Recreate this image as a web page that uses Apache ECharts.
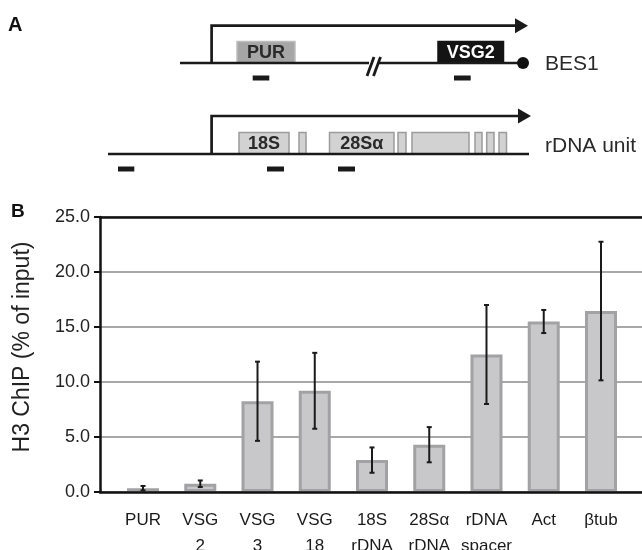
<!DOCTYPE html>
<html><head><meta charset="utf-8">
<script src="https://cdn.jsdelivr.net/npm/echarts@6/dist/echarts.min.js"></script>
<style>html,body{margin:0;padding:0;background:#fff}#chart{width:642px;height:550px}</style>
</head><body><div id="chart"></div>
<script>
// ---------- Panel B data ----------
const categories = ['PUR', 'VSG\n2', 'VSG\n3', 'VSG\n18', '18S\nrDNA', '28S\u03b1\nrDNA', 'rDNA\nspacer', 'Act', '\u03b2tub'];
const h3Values = [0.35, 0.75, 8.25, 9.2, 2.9, 4.3, 12.5, 15.5, 16.45];
const h3Errors = [0.2, 0.3, 3.6, 3.45, 1.15, 1.6, 4.5, 1.05, 6.3];
const yTicks = [0, 5, 10, 15, 20, 25];

// ---------- Panel A schematic data (schematic map units) ----------
const trackNames = ['BES1', 'rDNA unit'];
const trackY = [63, 154];
const trackStart = [180, 108];
const trackEnd = [523, 529];
const trackBreak = [374, -1];
const telomere = [true, false];
const promoterX = [211.6, 211.6];
const promoterTop = [25.7, 116];
const arrowTip = [528, 531];
const bes1Genes = ['PUR', 'VSG2'];
const bes1GeneStart = [237, 438];
const bes1GeneEnd = [295, 503.5];
const rdnaGenes = ['18S', '', '28S\u03b1', '', '', '', '', ''];
const rdnaGeneStart = [239, 299, 329.5, 398, 412, 475, 486.7, 499];
const rdnaGeneEnd = [289, 306, 394, 406, 469, 482, 494, 506.5];
const bes1ProbeStart = [252.7, 454];
const bes1ProbeEnd = [269.3, 470.7];
const rdnaProbeStart = [118, 267, 338];
const rdnaProbeEnd = [134.3, 284, 355];

const FONT = 'Liberation Sans, Arial, Helvetica, sans-serif';
const INK = '#1a1a1a';

const chart = echarts.init(document.getElementById('chart'), null, {renderer: 'canvas'});

function lineEl(a, b, w, c) {
  return {type: 'line', shape: {x1: a[0], y1: a[1], x2: b[0], y2: b[1]}, style: {stroke: c || INK, lineWidth: w}};
}

const errorData = categories.map((c, i) => [i, h3Values[i] - h3Errors[i], h3Values[i] + h3Errors[i]]);

const trackData = trackNames.map((n, i) => [trackStart[i], trackEnd[i], trackY[i], trackBreak[i], i]);
const arrowData = trackNames.map((n, i) => [promoterX[i], trackY[i], promoterTop[i], arrowTip[i]]);
const bes1GeneData = bes1Genes.map((g, i) => [bes1GeneStart[i], bes1GeneEnd[i], trackY[0]]);
const rdnaGeneData = rdnaGenes.map((g, i) => [rdnaGeneStart[i], rdnaGeneEnd[i], trackY[1]]);
const probeData = bes1ProbeStart.map((s, i) => [s, bes1ProbeEnd[i], trackY[0]])
  .concat(rdnaProbeStart.map((s, i) => [s, rdnaProbeEnd[i], trackY[1]]));

const boxH = 21.5;

const option = {
  backgroundColor: '#fff',
  animation: false,
  grid: [
    {left: 100, right: -10, top: 217, height: 275, outerBoundsMode: 'none', containLabel: false},
    {left: 114.4, right: 12.4, top: 217, height: 275, outerBoundsMode: 'none', containLabel: false},
    {left: 0, right: 0, top: 0, height: 200, outerBoundsMode: 'none', containLabel: false}
  ],
  xAxis: [
    {gridIndex: 0, type: 'value', min: 0, max: 1, position: 'bottom', z: 10,
      axisLine: {show: true, onZero: false, lineStyle: {color: '#111', width: 2.5}},
      axisTick: {show: false}, axisLabel: {show: false}, splitLine: {show: false}},
    {gridIndex: 0, type: 'value', min: 0, max: 1, position: 'top', z: 10,
      axisLine: {show: true, onZero: false, lineStyle: {color: '#111', width: 2.5}},
      axisTick: {show: false}, axisLabel: {show: false}, splitLine: {show: false}},
    {gridIndex: 1, type: 'category', data: categories,
      axisLine: {show: false}, axisTick: {show: false}, splitLine: {show: false},
      axisLabel: {interval: 0, margin: 15, fontSize: 17, lineHeight: 26, color: '#1a1a1a', fontFamily: FONT}},
    {gridIndex: 2, type: 'value', min: 0, max: 642, show: false}
  ],
  yAxis: [
    {gridIndex: 0, type: 'value', min: yTicks[0], max: yTicks[yTicks.length - 1], interval: yTicks[1] - yTicks[0],
      axisLine: {show: true, lineStyle: {color: '#111', width: 2.5}},
      axisTick: {show: true, length: 6, lineStyle: {color: '#111', width: 2}},
      axisLabel: {formatter: v => v.toFixed(1), fontSize: 18, color: '#222', margin: 10, fontFamily: FONT},
      splitLine: {show: true, lineStyle: {color: '#a8a8a8', width: 2}}},
    {gridIndex: 1, type: 'value', min: yTicks[0], max: yTicks[yTicks.length - 1], show: false},
    {gridIndex: 2, type: 'value', min: 0, max: 200, inverse: true, show: false}
  ],
  graphic: [
    {type: 'text', x: 8, y: 25, style: {text: 'A', font: 'bold 20px ' + FONT, fill: '#111', verticalAlign: 'middle'}},
    {type: 'text', x: 11, y: 212, style: {text: 'B', font: 'bold 19px ' + FONT, fill: '#111', verticalAlign: 'middle'}},
    {type: 'text', x: 23, y: 347, rotation: Math.PI / 2,
      style: {text: 'H3 ChIP (% of input)', font: '23px ' + FONT, fill: '#222', align: 'center', verticalAlign: 'middle'}}
  ],
  series: [
    {type: 'bar', xAxisIndex: 2, yAxisIndex: 1, data: h3Values, barWidth: 32,
      itemStyle: {color: '#c8c8ca', borderColor: '#a2a2a4', borderWidth: 3}},
    {type: 'custom', xAxisIndex: 2, yAxisIndex: 1, data: errorData, z: 5,
      renderItem: function (params, api) {
        const x = api.value(0);
        const lo = api.coord([x, api.value(1)]);
        const hi = api.coord([x, api.value(2)]);
        const cap = 2.5;
        return {type: 'group', children: [
          lineEl(lo, hi, 2),
          lineEl([lo[0] - cap, lo[1]], [lo[0] + cap, lo[1]], 2),
          lineEl([hi[0] - cap, hi[1]], [hi[0] + cap, hi[1]], 2)
        ]};
      }},
    // ----- schematic: gene boxes -----
    {type: 'custom', xAxisIndex: 3, yAxisIndex: 2, data: bes1GeneData, clip: false,
      renderItem: function (params, api) {
        const a = api.coord([api.value(0), api.value(2) - boxH]);
        const b = api.coord([api.value(1), api.value(2)]);
        const dark = params.dataIndex === 1;
        return {type: 'group', children: [
          {type: 'rect', shape: {x: a[0], y: a[1], width: b[0] - a[0], height: b[1] - a[1]},
            style: {fill: dark ? '#141414' : '#a6a6a6', stroke: dark ? '#141414' : '#bdbdbd', lineWidth: 1.5}},
          {type: 'text', x: (a[0] + b[0]) / 2, y: (a[1] + b[1]) / 2 + 0.5,
            style: {text: bes1Genes[params.dataIndex], font: 'bold 18px ' + FONT, fill: dark ? '#fff' : '#2a2a2a', align: 'center', verticalAlign: 'middle'}}
        ]};
      }},
    {type: 'custom', xAxisIndex: 3, yAxisIndex: 2, data: rdnaGeneData, clip: false,
      renderItem: function (params, api) {
        const a = api.coord([api.value(0), api.value(2) - boxH]);
        const b = api.coord([api.value(1), api.value(2)]);
        const children = [
          {type: 'rect', shape: {x: a[0], y: a[1], width: b[0] - a[0], height: b[1] - a[1]},
            style: {fill: '#d2d2d2', stroke: '#9c9c9c', lineWidth: 1.5}}
        ];
        const t = rdnaGenes[params.dataIndex];
        if (t) children.push({type: 'text', x: (a[0] + b[0]) / 2, y: (a[1] + b[1]) / 2 + 0.5,
          style: {text: t, font: 'bold 18px ' + FONT, fill: '#2a2a2a', align: 'center', verticalAlign: 'middle'}});
        return {type: 'group', children};
      }},
    // ----- schematic: probes -----
    {type: 'custom', xAxisIndex: 3, yAxisIndex: 2, data: probeData, clip: false,
      renderItem: function (params, api) {
        const a = api.coord([api.value(0), api.value(2) + 12.5]);
        const b = api.coord([api.value(1), api.value(2) + 17.5]);
        return {type: 'rect', shape: {x: a[0], y: a[1], width: b[0] - a[0], height: b[1] - a[1]}, style: {fill: INK}};
      }},
    // ----- schematic: track lines -----
    {type: 'custom', xAxisIndex: 3, yAxisIndex: 2, data: trackData, clip: false,
      renderItem: function (params, api) {
        const s = api.value(0), e = api.value(1), y = api.value(2), br = api.value(3), idx = params.dataIndex;
        const p = (v, yy) => api.coord([v, yy === undefined ? y : yy]);
        const children = [];
        if (br >= 0) {
          children.push(lineEl(p(s), p(br - 5), 2.5), lineEl(p(br + 5), p(e), 2.5));
          children.push(lineEl(p(br - 7, y + 13), p(br, y - 6), 2.8));
          children.push(lineEl(p(br - 0.5, y + 13), p(br + 6.5, y - 6), 2.8));
        } else {
          children.push(lineEl(p(s), p(e), 2.5));
        }
        if (telomere[idx]) {
          const c = p(e);
          children.push({type: 'circle', shape: {cx: c[0], cy: c[1], r: 6}, style: {fill: '#111'}});
        }
        const lp = p(545, y + (idx === 0 ? 1 : -8));
        children.push({type: 'text', x: lp[0], y: lp[1],
          style: {text: trackNames[idx], font: '21px ' + FONT, fill: '#2a2a2a', align: 'left', verticalAlign: 'middle'}});
        return {type: 'group', children};
      }},
    // ----- schematic: promoter arrows -----
    {type: 'custom', xAxisIndex: 3, yAxisIndex: 2, data: arrowData, clip: false,
      renderItem: function (params, api) {
        const px = api.value(0), y = api.value(1), top = api.value(2), tip = api.value(3);
        const c = (x, yy) => api.coord([x, yy]);
        return {type: 'group', children: [
          {type: 'polyline', shape: {points: [c(px, y), c(px, top), c(tip - 11, top)]},
            style: {stroke: INK, lineWidth: 2.7, fill: null}},
          {type: 'polygon', shape: {points: [c(tip - 13, top - 7.5), c(tip, top), c(tip - 13, top + 7.5)]},
            style: {fill: INK}}
        ]};
      }}
  ]
};
chart.setOption(option);
</script></body></html>
